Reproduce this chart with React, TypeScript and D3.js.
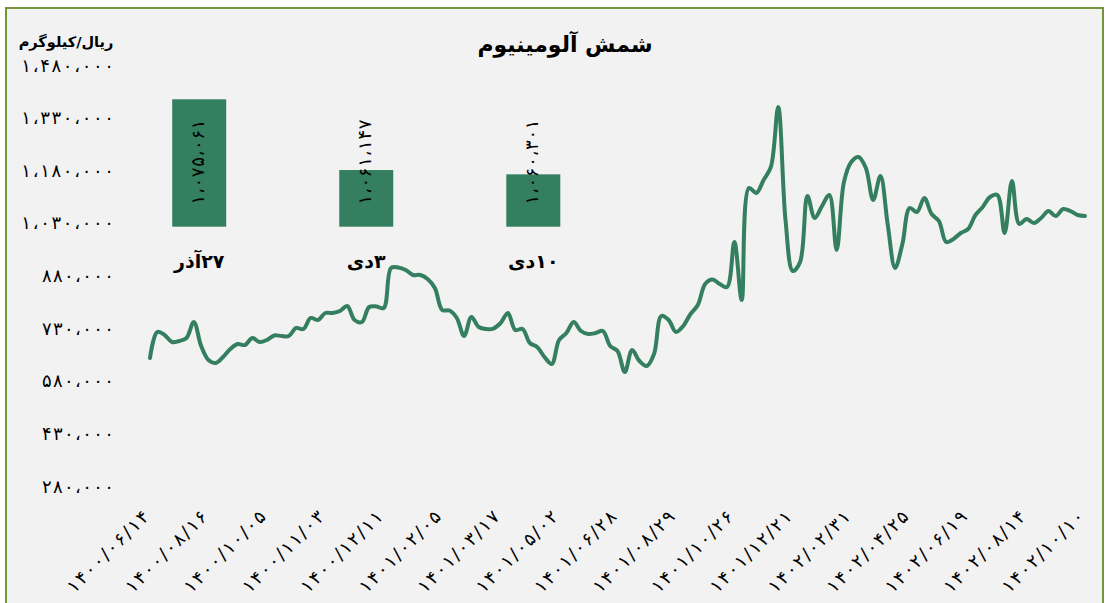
import React from "react";
import * as d3 from "d3";

// Line series: aluminium ingot price (Rial/kg)
const prices: number[] = [
  645000, 719000, 710400, 690500, 693300, 701900, 747500, 679000, 639100, 630600,
  647700, 670500, 684800, 681900, 701900, 690500, 696200, 709000, 707600, 707600,
  730400, 727500, 758900, 753200, 773100, 773100, 778800, 793100, 753200, 747500,
  790200, 791600, 787400, 901400, 902800, 895700, 881400, 881400, 870000, 844400,
  781700, 780200, 758900, 707600, 761700, 733200, 727500, 728900, 744600, 773100,
  724700, 727500, 687600, 676200, 647700, 627700, 696200, 716100, 747500, 721800,
  713300, 716100, 721800, 679000, 664800, 604900, 667600, 636300, 622000, 656200,
  764600, 753200, 719000, 736100, 770300, 795900, 855800, 868600, 855800, 847200,
  975500, 810200, 1129400, 1115200, 1152200, 1189300, 1360300, 1038200, 892800, 918500,
  1106600, 1043900, 1078100, 1109500, 952700, 1146500, 1203500, 1217800, 1186400, 1095200,
  1163600, 1023900, 901400, 969800, 1072400, 1061000, 1100900, 1055300, 1035300, 975500,
  984000, 1001100, 1012500, 1052400, 1075300, 1103800, 1109500, 1001100, 1149400, 1026800,
  1041000, 1029600, 1043900, 1063800, 1049600, 1069600, 1063800, 1052400, 1049600,
];

// Category (date) labels shown every 8th point
const dateLabels: string[] = [
  "۱۴۰۰/۰۶/۱۴", "۱۴۰۰/۰۸/۱۶", "۱۴۰۰/۱۰/۰۵", "۱۴۰۰/۱۱/۰۳", "۱۴۰۰/۱۲/۱۱",
  "۱۴۰۱/۰۲/۰۵", "۱۴۰۱/۰۳/۱۷", "۱۴۰۱/۰۵/۰۲", "۱۴۰۱/۰۶/۲۸", "۱۴۰۱/۰۸/۲۹",
  "۱۴۰۱/۱۰/۲۶", "۱۴۰۱/۱۲/۲۱", "۱۴۰۲/۰۲/۳۱", "۱۴۰۲/۰۴/۲۵", "۱۴۰۲/۰۶/۱۹",
  "۱۴۰۲/۰۸/۱۴", "۱۴۰۲/۱۰/۱۰",
];
const labelStep = 8;

// Y axis ticks
const yTicks: number[] = [280000, 430000, 580000, 730000, 880000, 1030000, 1180000, 1330000, 1480000];

// Inset bar chart
const barCategories: string[] = ["۲۷آذر", "۳دی", "۱۰دی"];
const barValues: number[] = [1075061, 1061147, 1060301];

const title = "شمش آلومینیوم";
const unitLabel = "ریال/کیلوگرم";

const FA_DIGITS = "۰۱۲۳۴۵۶۷۸۹";
const toFa = (s: string) =>
  s.replace(/\d/g, (d) => FA_DIGITS[+d]).replace(/,/g, "،");
const fmt = d3.format(",");

const GREEN = "#347F5F";
const FONT = "DejaVu Sans";

export default function App() {
  const W = 1107;
  const H = 603;

  const x = d3
    .scalePoint<number>()
    .domain(d3.range(prices.length))
    .range([150, 1085]);
  const y = d3.scaleLinear().domain([280000, 1480000]).range([486, 65]);

  const line = d3
    .line<number>()
    .x((_, i) => x(i) as number)
    .y((d) => y(d))
    .curve(d3.curveCatmullRom.alpha(0.5));

  const bx = d3.scalePoint<string>().domain(barCategories).range([199.2, 533.3]);
  const by = d3.scaleLinear().domain([1050000, 1080000]).range([226.7, 74.2]);
  const barW = 54;

  return (
    <svg
      width={W}
      height={H}
      style={{ position: "absolute", left: 0, top: 0 }}
      fontFamily={FONT}
    >
      <rect x={0} y={0} width={W} height={H} fill="#ffffff" />
      <rect
        x={6}
        y={8}
        width={1097}
        height={620}
        fill="#F2F2F2"
        stroke="#77933C"
        strokeWidth={2}
      />

      {/* Title */}
      <text
        x={565}
        y={52}
        textAnchor="middle"
        fontSize={22}
        fontWeight="bold"
        direction="rtl"
        fill="#000"
      >
        {title}
      </text>

      {/* Unit label */}
      <text
        x={66}
        y={47}
        textAnchor="middle"
        fontSize={14.5}
        fontWeight="bold"
        direction="rtl"
        fill="#000"
      >
        {unitLabel}
      </text>

      {/* Y tick labels */}
      {yTicks.map((t) => {
        const s = toFa(fmt(t));
        return (
          <text
            key={t}
            x={114}
            y={y(t)}
            textAnchor="end"
            dominantBaseline="central"
            fontSize={18}
            textLength={s.length * 10.3}
            lengthAdjust="spacing"
            fill="#000"
          >
            {s}
          </text>
        );
      })}

      {/* X tick labels */}
      {dateLabels.map((lab, k) => {
        const px = x(k * labelStep) as number;
        return (
          <text
            key={lab}
            transform={`translate(${px},${518}) rotate(-45)`}
            textAnchor="end"
            fontSize={18}
            textLength={107}
            lengthAdjust="spacing"
            fill="#000"
          >
            {lab}
          </text>
        );
      })}

      {/* Inset bars */}
      {barCategories.map((c, i) => {
        const cx = bx(c) as number;
        const top = by(barValues[i]);
        const s = toFa(fmt(barValues[i]));
        return (
          <g key={c}>
            <rect
              x={cx - barW / 2}
              y={top}
              width={barW}
              height={by(1050000) - top}
              fill={GREEN}
            />
            <text
              transform={`translate(${cx - 2},${162}) rotate(-90)`}
              textAnchor="middle"
              dominantBaseline="central"
              fontSize={18}
              textLength={85}
              lengthAdjust="spacing"
              fill="#000"
            >
              {s}
            </text>
            <text
              x={cx}
              y={268}
              textAnchor="middle"
              fontSize={19}
              fontWeight="bold"
              direction="rtl"
              fill="#000"
            >
              {c}
            </text>
          </g>
        );
      })}

      {/* Price line */}
      <path
        d={line(prices) || ""}
        fill="none"
        stroke={GREEN}
        strokeWidth={4}
        strokeLinejoin="round"
        strokeLinecap="round"
      />
    </svg>
  );
}
